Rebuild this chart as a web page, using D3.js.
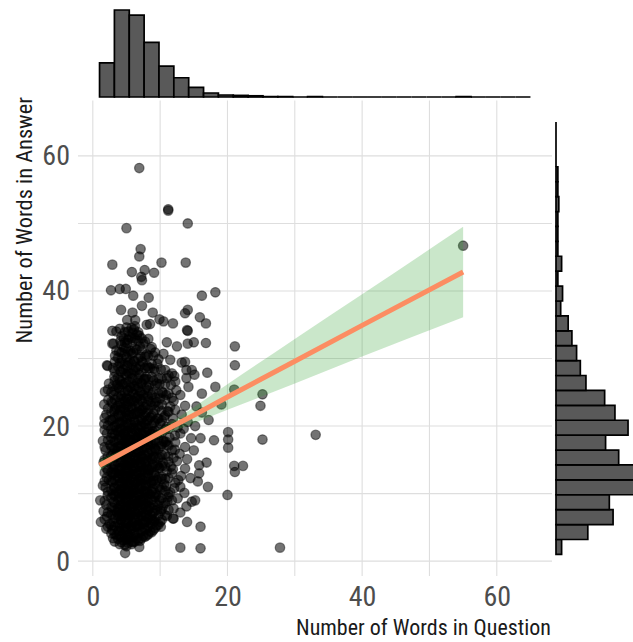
<!DOCTYPE html>
<html>
<head>
<meta charset="utf-8">
<script src="https://cdn.jsdelivr.net/npm/d3@7"></script>
<style>
  html, body { margin: 0; padding: 0; background: #fff; }
  svg { display: block; }
</style>
</head>
<body>
<svg id="chart" width="633" height="642"></svg>
<script>
// Words per question (x) vs words per answer (y), with a linear fit and marginal histograms.

const axisTicks = [0, 20, 40, 60];
const gridValues = [0, 10, 20, 30, 40, 50, 60];

// Histogram bins: 29 equal bins spanning 1..65 on both axes
const binRange = [1, 65];
const binCount = 29;
const questionCounts = [85, 217, 204, 136, 77, 48, 24, 10, 5, 4, 3, 1, 1, 0, 1, 0, 0, 0, 0, 0, 0, 0, 0, 0, 1, 0, 0, 0, 0];
const answerCounts = [6, 34, 61, 57, 93, 90, 67, 53, 77, 63, 52, 32, 26, 22, 17, 13, 5, 7, 2, 6, 2, 2, 2, 3, 2, 2, 0, 0, 0];

// Fitted line and its confidence band
const fitX = [1, 4, 7, 10, 15, 20, 30, 40, 55];
const fitY = [14.2, 15.8, 17.4, 19.0, 21.6, 24.3, 29.6, 34.9, 42.8];
const fitLower = [13.4, 15.3, 17.0, 18.4, 20.4, 22.4, 26.3, 30.3, 36.1];
const fitUpper = [15.0, 16.3, 17.8, 19.6, 22.8, 26.2, 32.9, 39.5, 49.5];

// [question words, answer words]
const points = [
  // sparse points around the main cluster
  [6.9,58.2],[11.2,51.9],[11.2,52.1],[14.1,50.0],[5.0,49.3],[7.1,46.2],[6.9,45.1],[2.9,43.9],[10.2,44.2],[13.8,44.2],
  [5.8,42.8],[7.7,43.1],[9.1,42.7],[7.2,42.1],[7.3,41.6],[2.7,40.1],[4.0,40.3],[4.9,40.3],[6.0,39.3],[8.3,39.0],
  [7.3,37.8],[16.2,39.3],[18.2,39.8],[4.2,37.2],[5.9,36.8],[8.9,36.8],[14.1,37.2],[5.1,35.7],[6.3,35.7],[8.5,35.1],
  [9.9,35.8],[10.5,35.5],[11.9,35.2],[15.9,36.1],[16.8,35.2],[2.9,34.1],[3.5,34.0],[8.0,35.0],[14.1,34.1],[3.1,32.2],
  [5.9,33.8],[4.6,33.0],[11.0,32.4],[12.5,31.8],[14.1,32.2],[15.0,32.4],[16.8,32.3],[21.1,31.8],[21.1,29.0],[2.2,28.9],
  [4.3,30.0],[13.2,29.4],[13.9,28.3],[13.9,27.1],[18.2,25.8],[21.0,25.4],[25.2,24.7],[24.9,23.0],[1.8,25.1],[1.7,23.2],
  [16.2,24.8],[15.4,22.9],[17.2,20.9],[19.1,23.2],[20.1,19.1],[20.1,18.0],[20.1,16.8],[18.0,17.9],[25.2,18.0],[33.1,18.7],
  [21.0,14.1],[22.3,14.1],[21.1,13.2],[15.8,14.2],[15.8,13.0],[20.0,9.8],[17.1,11.0],[15.2,9.0],[13.9,8.1],[1.1,9.0],
  [1.2,5.8],[11.9,6.3],[14.0,5.8],[16.0,5.1],[8.8,6.1],[10.1,5.1],[5.0,3.2],[5.8,2.9],[6.9,2.1],[4.8,1.2],
  [13.0,2.0],[16.0,1.9],[27.8,2.0],[55.0,46.7],[13.7,36.7],[14.0,34.2],[13.7,29.5],[14.7,28.3],[2.1,29.0],[2.9,32.2],
  [13.7,13.7],[14.7,8.8],[12.7,12.0],[13.0,11.0],[11.2,9.5],[11.0,17.2],[12.2,16.5],[13.7,16.9],[12.0,6.3],
  // main cluster
  [1.6,7.4],[1.5,11.2],[1.6,14.6],[1.5,17.8],[1.7,20.3],[2.0,4.8],[2.1,6.6],[2.0,8.3],[2.2,9.7],[1.9,10.9],
  [2.1,12.4],[2.0,13.8],[2.2,15.5],[1.9,16.4],[2.1,18.9],[2.0,21.7],[2.3,23.9],[2.4,26.3],[2.5,5.5],[2.4,12.0],
  [2.6,17.2],[2.5,20.8],
  [3.0,3.4],[2.9,4.6],[3.1,5.7],[3.0,6.8],[2.9,7.9],[3.1,8.8],[3.0,9.9],[3.2,10.8],[2.9,11.7],[3.0,12.8],
  [3.1,13.6],[2.9,14.7],[3.0,15.9],[3.2,16.7],[3.0,17.8],[2.9,18.9],[3.1,19.9],[3.0,21.0],[3.2,22.2],[2.9,23.4],
  [3.1,24.6],[3.0,25.9],[3.2,27.3],[3.0,28.6],[3.3,30.4],[3.5,3.9],[3.6,7.2],[3.5,10.3],[3.4,13.1],[3.6,16.2],
  [3.5,19.4],[3.4,22.8],[3.6,26.1],[3.5,31.2],
  [4.0,2.5],[4.1,3.6],[3.9,4.5],[4.0,5.3],[4.2,6.1],[3.9,6.9],[4.0,7.6],[4.1,8.4],[3.9,9.2],[4.0,10.0],
  [4.2,10.7],[4.0,11.5],[3.9,12.3],[4.1,13.0],[4.0,13.8],[4.2,14.6],[3.9,15.4],[4.0,16.2],[4.1,17.0],[3.9,17.9],
  [4.0,18.7],[4.2,19.6],[4.0,20.5],[3.9,21.4],[4.1,22.4],[4.0,23.4],[4.2,24.5],[3.9,25.6],[4.0,26.8],[4.1,28.1],
  [4.0,29.3],[3.9,31.0],[4.1,32.6],[4.0,34.4],[4.5,3.1],[4.6,5.0],[4.4,6.6],[4.5,8.0],[4.6,9.6],[4.4,11.1],
  [4.5,12.7],[4.6,14.1],[4.4,15.8],[4.5,17.4],[4.6,18.9],[4.4,20.7],[4.5,22.6],[4.6,24.1],[4.4,26.2],[4.5,28.4],
  [4.6,31.6],
  [5.0,2.2],[5.1,3.9],[4.9,4.8],[5.0,5.6],[5.2,6.4],[4.9,7.1],[5.0,7.9],[5.1,8.7],[4.9,9.5],[5.0,10.3],
  [5.2,11.0],[5.0,11.8],[4.9,12.6],[5.1,13.4],[5.0,14.2],[5.2,15.0],[4.9,15.8],[5.0,16.6],[5.1,17.5],[4.9,18.4],
  [5.0,19.3],[5.2,20.2],[5.0,21.1],[4.9,22.1],[5.1,23.1],[5.0,24.1],[5.2,25.2],[4.9,26.4],[5.0,27.6],[5.1,28.9],
  [5.0,30.2],[4.9,31.5],[5.1,32.3],[5.0,34.6],[5.5,3.5],[5.6,5.2],[5.4,6.8],[5.5,8.3],[5.6,9.9],[5.4,11.4],
  [5.5,13.0],[5.6,14.5],[5.4,16.1],[5.5,17.9],[5.6,19.7],[5.4,21.6],[5.5,23.6],[5.6,25.7],[5.4,27.8],[5.5,29.6],
  [5.6,31.1],[5.4,33.2],
  [6.0,2.8],[6.1,4.1],[5.9,4.9],[6.0,5.7],[6.2,6.5],[5.9,7.3],[6.0,8.1],[6.1,8.9],[5.9,9.7],[6.0,10.5],
  [6.2,11.3],[6.0,12.1],[5.9,12.9],[6.1,13.7],[6.0,14.5],[6.2,15.3],[5.9,16.1],[6.0,17.0],[6.1,17.9],[5.9,18.8],
  [6.0,19.7],[6.2,20.7],[6.0,21.7],[5.9,22.7],[6.1,23.7],[6.0,24.8],[6.2,25.9],[5.9,27.1],[6.0,28.3],[6.1,29.6],
  [6.0,30.9],[5.9,32.4],[6.1,34.3],[6.5,3.4],[6.6,5.3],[6.4,7.0],[6.5,8.6],[6.6,10.1],[6.4,11.7],[6.5,13.3],
  [6.6,14.9],[6.4,16.5],[6.5,18.3],[6.6,20.1],[6.4,22.0],[6.5,24.2],[6.6,26.4],[6.4,28.7],[6.5,31.3],[6.6,33.5],
  [7.0,3.0],[7.1,4.3],[6.9,5.1],[7.0,5.9],[7.2,6.7],[6.9,7.5],[7.0,8.3],[7.1,9.1],[6.9,9.9],[7.0,10.7],
  [7.2,11.5],[7.0,12.3],[6.9,13.1],[7.1,13.9],[7.0,14.7],[7.2,15.5],[6.9,16.3],[7.0,17.2],[7.1,18.1],[6.9,19.0],
  [7.0,19.9],[7.2,20.9],[7.0,21.9],[6.9,22.9],[7.1,24.0],[7.0,25.1],[7.2,26.3],[6.9,27.6],[7.0,28.9],[7.1,30.3],
  [7.0,31.8],[6.9,33.4],[7.5,3.7],[7.6,5.5],[7.4,7.2],[7.5,8.8],[7.6,10.4],[7.4,12.0],[7.5,13.6],[7.6,15.2],
  [7.4,16.9],[7.5,18.7],[7.6,20.5],[7.4,22.5],[7.5,24.6],[7.6,26.9],[7.4,29.4],[7.5,32.2],
  [8.0,3.8],[8.1,4.9],[7.9,5.8],[8.0,6.7],[8.2,7.6],[7.9,8.5],[8.0,9.4],[8.1,10.3],[7.9,11.2],[8.0,12.1],
  [8.2,13.0],[8.0,13.9],[7.9,14.8],[8.1,15.7],[8.0,16.7],[8.2,17.7],[7.9,18.7],[8.0,19.7],[8.1,20.8],[7.9,21.9],
  [8.0,23.1],[8.2,24.4],[8.0,25.8],[7.9,27.3],[8.1,28.9],[8.0,30.6],[8.5,4.4],[8.6,6.3],[8.4,8.1],[8.5,9.9],
  [8.6,11.7],[8.4,13.5],[8.5,15.3],[8.6,17.2],[8.4,19.2],[8.5,21.3],[8.6,23.6],[8.4,26.0],[8.5,28.6],[8.6,31.4],
  [9.0,4.6],[9.1,5.9],[8.9,7.1],[9.0,8.3],[9.2,9.5],[8.9,10.7],[9.0,11.9],[9.1,13.1],[8.9,14.3],[9.0,15.5],
  [9.2,16.7],[9.0,17.9],[8.9,19.2],[9.1,20.5],[9.0,21.9],[9.2,23.4],[8.9,25.0],[9.0,26.7],[9.1,28.5],[9.0,30.4],
  [9.5,5.3],[9.6,7.6],[9.4,9.8],[9.5,12.0],[9.6,14.2],[9.4,16.4],[9.5,18.7],[9.6,21.1],[9.4,23.6],[9.5,26.3],
  [9.6,29.2],
  [10.0,5.8],[10.1,7.4],[9.9,9.0],[10.0,10.6],[10.2,12.2],[9.9,13.8],[10.0,15.4],[10.1,17.0],[9.9,18.7],[10.0,20.4],
  [10.2,22.2],[10.0,24.1],[9.9,26.2],[10.1,28.4],[10.5,8.2],[10.6,11.4],[10.4,14.6],[10.5,17.8],[10.6,21.3],[10.4,24.9],
  [10.5,30.7],
  [11.0,6.7],[11.1,8.9],[10.9,11.1],[11.0,13.3],[11.2,15.5],[10.9,17.7],[11.0,19.9],[11.1,22.2],[10.9,24.6],[11.0,27.1],
  [11.5,10.2],[11.6,14.0],[11.4,18.3],[11.5,22.9],[11.6,26.1],[11.5,29.8],
  [12.0,7.8],[12.1,10.8],[11.9,13.6],[12.0,15.3],[12.2,18.6],[11.9,21.1],[12.0,23.7],[12.1,27.4],[12.6,9.3],[12.5,14.8],
  [12.6,19.8],[12.4,25.3],
  [13.0,7.2],[13.1,12.6],[12.9,15.9],[13.0,18.9],[13.2,21.7],[13.0,24.6],[13.6,10.1],[13.5,19.6],[13.7,23.0],[14.0,15.1],
  [14.1,20.6],[14.2,25.8],[14.5,12.3],[14.6,18.2],
  [15.0,16.4],[15.2,20.0],[15.1,27.6],[15.6,11.8],[16.0,18.2],[16.2,22.0],[16.9,14.6],[17.0,27.9]
];

// Further answers in the dense core, grouped by question length: [question words, [answer words...]]
const coreColumns = [
  [1.75, [6.2, 8.9, 11.8, 13.1, 15.0, 16.9, 19.4, 21.2]],
  [2.25, [5.1, 7.2, 10.3, 13.4, 14.8, 17.9, 20.1, 22.6, 25.4]],
  [2.75, [4.1, 5.3, 6.9, 8.0, 9.4, 10.5, 11.9, 13.2, 14.3, 15.7, 16.9, 18.3, 19.5, 20.9, 22.1, 23.6, 25.0]],
  [3.25, [2.9, 4.0, 5.2, 6.3, 7.5, 8.6, 9.7, 10.9, 12.0, 13.1, 14.3, 15.4, 16.5, 17.7, 18.8, 20.0, 21.3, 22.5, 23.9, 25.2, 26.7, 28.1, 29.5]],
  [3.75, [3.3, 4.4, 5.6, 6.7, 7.8, 9.0, 10.1, 11.3, 12.4, 13.5, 14.6, 15.8, 16.9, 18.1, 19.2, 20.4, 21.7, 23.0, 24.3, 25.8, 27.2, 28.8, 30.1]],
  [4.25, [2.8, 3.9, 5.0, 6.1, 7.2, 8.3, 9.4, 10.5, 11.6, 12.7, 13.8, 14.9, 16.0, 17.1, 18.2, 19.3, 20.4, 21.6, 22.8, 24.0, 25.3, 26.6, 28.0, 29.4, 30.9, 32.0, 33.3]],
  [4.75, [2.4, 3.5, 4.6, 5.7, 6.8, 7.9, 9.0, 10.1, 11.2, 12.3, 13.4, 14.5, 15.6, 16.7, 17.8, 18.9, 20.1, 21.3, 22.5, 23.7, 25.0, 26.3, 27.7, 29.1, 30.6, 32.4, 33.9]],
  [5.25, [2.7, 3.8, 4.9, 6.0, 7.1, 8.2, 9.3, 10.4, 11.5, 12.6, 13.7, 14.8, 15.9, 17.0, 18.1, 19.2, 20.4, 21.6, 22.8, 24.0, 25.3, 26.6, 28.0, 29.4, 31.0, 32.8, 34.0]],
  [5.75, [2.5, 3.6, 4.7, 5.8, 6.9, 8.0, 9.1, 10.2, 11.3, 12.4, 13.5, 14.6, 15.7, 16.8, 17.9, 19.0, 20.2, 21.4, 22.6, 23.8, 25.1, 26.4, 27.8, 29.2, 30.7, 33.0, 34.5]],
  [6.25, [2.9, 4.0, 5.1, 6.2, 7.3, 8.4, 9.5, 10.6, 11.7, 12.8, 13.9, 15.0, 16.1, 17.2, 18.3, 19.4, 20.6, 21.8, 23.0, 24.2, 25.5, 26.8, 28.2, 29.6, 31.5, 33.0, 34.8]],
  [6.75, [3.1, 4.2, 5.3, 6.4, 7.5, 8.6, 9.7, 10.8, 11.9, 13.0, 14.1, 15.2, 16.3, 17.4, 18.5, 19.6, 20.8, 22.0, 23.2, 24.4, 25.7, 27.0, 28.4, 30.0, 32.6, 33.9]],
  [7.25, [3.4, 4.5, 5.6, 6.7, 7.8, 8.9, 10.0, 11.1, 12.2, 13.3, 14.4, 15.5, 16.6, 17.7, 18.8, 20.0, 21.2, 22.4, 23.7, 25.0, 26.4, 27.9, 29.6, 31.2, 33.0]],
  [7.75, [3.6, 4.7, 5.8, 6.9, 8.0, 9.1, 10.2, 11.3, 12.4, 13.5, 14.6, 15.7, 16.8, 17.9, 19.1, 20.3, 21.5, 22.8, 24.1, 25.5, 27.0, 28.6, 30.3, 32.5]],
  [8.25, [4.0, 5.2, 6.4, 7.6, 8.8, 10.0, 11.2, 12.4, 13.6, 14.8, 16.0, 17.2, 18.4, 19.7, 21.0, 22.4, 23.8, 25.3, 26.9, 28.6, 30.4, 32.9]],
  [8.75, [4.3, 5.5, 6.7, 7.9, 9.1, 10.3, 11.5, 12.7, 13.9, 15.1, 16.3, 17.5, 18.8, 20.1, 21.5, 23.0, 24.6, 27.3, 29.2, 31.7]],
  [9.25, [4.9, 6.2, 7.5, 8.8, 10.1, 11.4, 12.7, 14.0, 15.3, 16.6, 17.9, 19.3, 20.8, 22.4, 24.2, 26.0, 28.1, 30.9]],
  [9.75, [5.4, 6.8, 8.2, 9.6, 11.0, 12.4, 13.8, 15.2, 16.6, 18.0, 19.5, 21.1, 22.9, 24.8, 27.1, 29.9]],
  [10.25, [6.1, 7.7, 9.3, 10.9, 12.5, 14.1, 15.7, 17.3, 19.0, 20.8, 23.2, 25.1, 27.0]],
  [10.75, [6.8, 8.6, 10.4, 12.2, 14.0, 15.8, 17.6, 19.5, 21.6, 23.9, 26.2, 28.3]],
  [11.25, [7.6, 9.9, 12.3, 14.7, 17.1, 19.6, 22.1, 24.8, 27.5]],
  [11.75, [9.0, 13.0, 16.4, 20.3, 24.2, 27.8]],
  [12.25, [11.6, 17.6, 22.4, 26.6]]
];

const allPoints = points.concat(coreColumns.flatMap(([q, answers]) => answers.map(a => [q, a])));

const svg = d3.select("#chart");

// Shared scales for the main panel (both axes span 1..65 with 5% padding)
const x = d3.scaleLinear().domain([-2.2, 68.2]).range([78, 552]);
const y = d3.scaleLinear().domain([-2.2, 68.2]).range([576, 100.5]);

const fontFamily = "'Liberation Sans Narrow', 'Roboto Condensed', 'Arial Narrow', Roboto, sans-serif";

// Grid
const grid = svg.append("g").attr("class", "grid");
grid.selectAll("line.v").data(gridValues).join("line")
  .attr("class", "v")
  .attr("x1", d => x(d)).attr("x2", d => x(d))
  .attr("y1", y.range()[1]).attr("y2", y.range()[0])
  .attr("stroke", "#dedede").attr("stroke-width", 1.1);
grid.selectAll("line.h").data(gridValues).join("line")
  .attr("class", "h")
  .attr("y1", d => y(d)).attr("y2", d => y(d))
  .attr("x1", x.range()[0]).attr("x2", x.range()[1])
  .attr("stroke", "#dedede").attr("stroke-width", 1.1);

// Scatter
svg.append("g").attr("class", "points")
  .selectAll("circle").data(allPoints).join("circle")
  .attr("cx", d => x(d[0]))
  .attr("cy", d => y(d[1]))
  .attr("r", 4.7)
  .attr("fill", "#000").attr("fill-opacity", 0.55)
  .attr("stroke", "#000").attr("stroke-opacity", 0.45).attr("stroke-width", 1.3);

// Confidence band and fitted line
const fit = fitX.map((v, i) => ({ x: v, y: fitY[i], lo: fitLower[i], hi: fitUpper[i] }));
svg.append("path").datum(fit)
  .attr("d", d3.area().x(d => x(d.x)).y0(d => y(d.lo)).y1(d => y(d.hi)).curve(d3.curveMonotoneX))
  .attr("fill", "#2ca02c").attr("fill-opacity", 0.25);
svg.append("path").datum(fit)
  .attr("d", d3.line().x(d => x(d.x)).y(d => y(d.y)))
  .attr("fill", "none").attr("stroke", "#fc8d62").attr("stroke-width", 5);

// Axes (labels only, no axis lines)
const xAxis = svg.append("g").attr("transform", `translate(0,${y.range()[0]})`)
  .call(d3.axisBottom(x).tickValues(axisTicks).tickSize(0).tickPadding(10));
const yAxis = svg.append("g").attr("transform", `translate(${x.range()[0]},0)`)
  .call(d3.axisLeft(y).tickValues(axisTicks).tickSize(0).tickPadding(8));
[xAxis, yAxis].forEach(g => {
  g.select(".domain").remove();
  g.selectAll("text").attr("fill", "#4d4d4d").style("font-family", fontFamily).style("font-size", "28px");
});

svg.append("text")
  .attr("x", 551).attr("y", 635)
  .attr("text-anchor", "end")
  .style("font-family", fontFamily).style("font-size", "22px").attr("fill", "#1a1a1a")
  .text("Number of Words in Question");
svg.append("text")
  .attr("transform", "translate(32,97) rotate(-90)")
  .attr("text-anchor", "end")
  .style("font-family", fontFamily).style("font-size", "22.4px").attr("fill", "#1a1a1a")
  .text("Number of Words in Answer");

// Marginal histograms (drawn as closed paths so empty bins still show their outline)
const binW = (binRange[1] - binRange[0]) / binCount;
const qBins = questionCounts.map((c, i) => ({ x0: binRange[0] + i * binW, x1: binRange[0] + (i + 1) * binW, c }));
const aBins = answerCounts.map((c, i) => ({ x0: binRange[0] + i * binW, x1: binRange[0] + (i + 1) * binW, c }));

const topH = d3.scaleLinear().domain([0, d3.max(questionCounts)]).range([97, 10]);
svg.append("g").attr("class", "hist-top")
  .selectAll("path").data(qBins).join("path")
  .attr("d", d => `M${x(d.x0)},${topH(0)}V${topH(d.c)}H${x(d.x1)}V${topH(0)}Z`)
  .attr("fill", "#595959").attr("stroke", "#000").attr("stroke-width", 1.7).attr("stroke-linejoin", "miter");

const rightW = d3.scaleLinear().domain([0, d3.max(answerCounts)]).range([556, 643]);
svg.append("g").attr("class", "hist-right")
  .selectAll("path").data(aBins).join("path")
  .attr("d", d => `M${rightW(0)},${y(d.x0)}H${rightW(d.c)}V${y(d.x1)}H${rightW(0)}Z`)
  .attr("fill", "#595959").attr("stroke", "#000").attr("stroke-width", 1.7).attr("stroke-linejoin", "miter");
</script>
</body>
</html>
